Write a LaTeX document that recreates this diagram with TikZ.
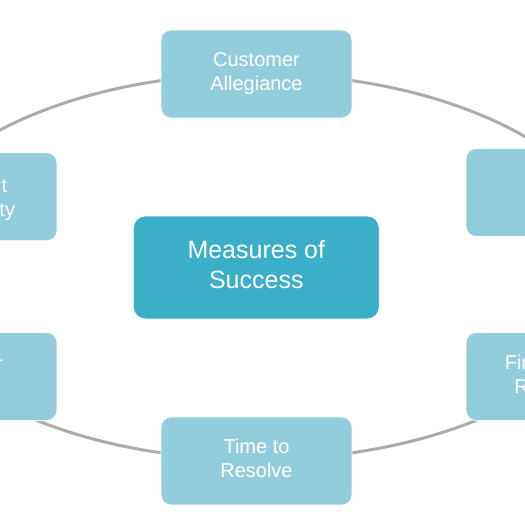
\documentclass[tikz,border=0pt]{standalone}
\usepackage{fontspec}
\setmainfont{Liberation Sans}
\definecolor{boxlight}{HTML}{93CDDD}
\definecolor{boxdark}{HTML}{3BAFC8}
\definecolor{ringgray}{HTML}{ABABAB}
\begin{document}
\begin{tikzpicture}[x=1pt,y=-1pt,
  item/.style={rectangle, rounded corners=10pt, fill=boxlight, draw=white, line width=0.8pt,
    minimum width=191pt, minimum height=88pt, text=white, inner sep=0pt,
    font=\fontsize{20}{24}\selectfont, align=center},
  hub/.style={item, rounded corners=12pt, fill=boxdark, minimum width=246pt, minimum height=103pt,
    font=\fontsize{25}{30}\selectfont},
  frag/.style={text=white, font=\fontsize{20}{24}\selectfont, inner sep=0pt, anchor=base east},
  ring/.style={draw=ringgray, line width=3pt}]
\useasboundingbox (0,0) rectangle (525,525);
\clip (0,0) rectangle (525,525);
\coordinate (c) at (256.5,266.7);
\draw[ring] (c) ellipse [x radius=363.6pt, y radius=192.8pt];
\node[item] (allegiance) at (256.5,74) {\strut Customer\\Allegiance\strut};
\node[item] (ul) at (-38.5,196.7) {};
\node[frag] (ult1) at (7.5,192.7) {t};
\node[frag] (ult2) at (15.2,216) {ty};
\node[item] (ur) at (561.5,192.5) {};
\node[item] (lr) at (561.5,376.5) {\strut First Contact\\Resolution\strut};
\node[item] (resolve) at (256.5,461) {\strut Time to\\Resolve\strut};
\node[item] (ll) at (-38.5,376.5) {};
\node[frag] (llt) at (3,370) {r};
\node[hub] (hub) at (256.3,267.5) {\strut Measures of\\Success\strut};
\end{tikzpicture}
\end{document}
